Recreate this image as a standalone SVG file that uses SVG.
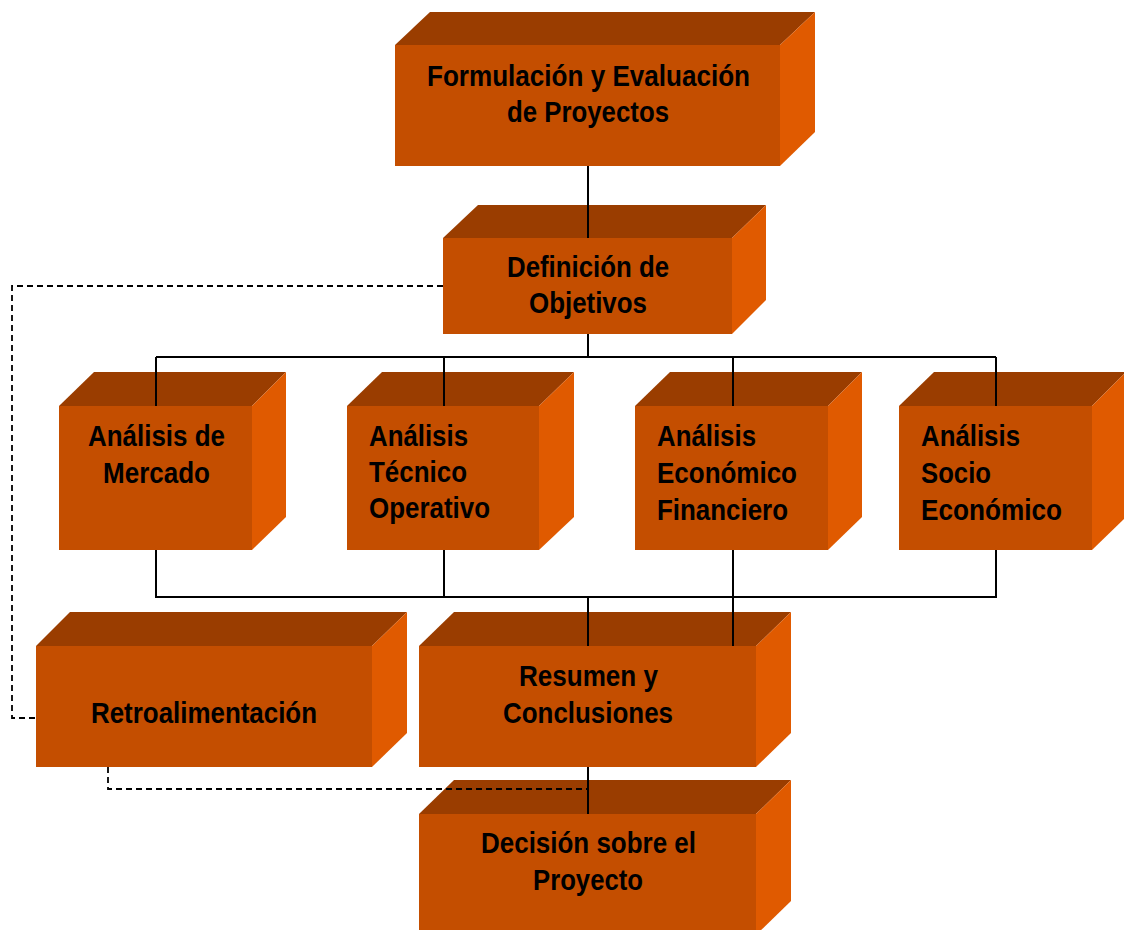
<svg xmlns="http://www.w3.org/2000/svg" width="1124" height="930" viewBox="0 0 1124 930">
<style>
.front{fill:#C44E00}
.top{fill:#9A3D00}
.side{fill:#E05A00}
.lbl{font-family:"Liberation Sans Narrow","Liberation Sans",Arial,sans-serif;font-weight:bold;font-size:30px;fill:#000}
.line{fill:none;stroke:#000;stroke-width:2}
.dash{fill:none;stroke:#000;stroke-width:1.8;stroke-dasharray:6 4}
</style>
<rect width="1124" height="930" fill="#fff"/>

<g id="n-formulacion">
<polygon class="top" points="395,45 430,12 815,12 780,45"/>
<polygon class="side" points="780,45 815,12 815,132 780,166"/>
<rect class="front" x="395" y="45" width="385" height="121"/>
<text class="lbl" x="427" y="86" textLength="323" lengthAdjust="spacingAndGlyphs">Formulación y Evaluación</text>
<text class="lbl" x="507" y="122" textLength="162" lengthAdjust="spacingAndGlyphs">de Proyectos</text>
</g>

<g id="n-definicion">
<polygon class="top" points="443,238 478,205 766,205 732,238"/>
<polygon class="side" points="732,238 766,205 766,300 732,334"/>
<rect class="front" x="443" y="238" width="289" height="96"/>
<text class="lbl" x="507" y="277" textLength="162" lengthAdjust="spacingAndGlyphs">Definición de</text>
<text class="lbl" x="529" y="313" textLength="118" lengthAdjust="spacingAndGlyphs">Objetivos</text>
</g>

<g id="n-mercado">
<polygon class="top" points="59,406 94,372 286,372 252,406"/>
<polygon class="side" points="252,406 286,372 286,517 252,550"/>
<rect class="front" x="59" y="406" width="193" height="144"/>
<text class="lbl" x="88" y="446" textLength="137" lengthAdjust="spacingAndGlyphs">Análisis de</text>
<text class="lbl" x="103" y="483" textLength="107" lengthAdjust="spacingAndGlyphs">Mercado</text>
</g>

<g id="n-tecnico">
<polygon class="top" points="347,406 382,372 574,372 539,406"/>
<polygon class="side" points="539,406 574,372 574,517 539,550"/>
<rect class="front" x="347" y="406" width="192" height="144"/>
<text class="lbl" x="369" y="446" textLength="99" lengthAdjust="spacingAndGlyphs">Análisis</text>
<text class="lbl" x="369" y="482" textLength="98" lengthAdjust="spacingAndGlyphs">Técnico</text>
<text class="lbl" x="369" y="518" textLength="121" lengthAdjust="spacingAndGlyphs">Operativo</text>
</g>

<g id="n-economico">
<polygon class="top" points="635,406 670,372 862,372 828,406"/>
<polygon class="side" points="828,406 862,372 862,517 828,550"/>
<rect class="front" x="635" y="406" width="193" height="144"/>
<text class="lbl" x="657" y="446" textLength="99" lengthAdjust="spacingAndGlyphs">Análisis</text>
<text class="lbl" x="657" y="483" textLength="140" lengthAdjust="spacingAndGlyphs">Económico</text>
<text class="lbl" x="657" y="520" textLength="131" lengthAdjust="spacingAndGlyphs">Financiero</text>
</g>

<g id="n-socio">
<polygon class="top" points="899,406 934,372 1126,372 1092,406"/>
<polygon class="side" points="1092,406 1126,372 1126,517 1092,550"/>
<rect class="front" x="899" y="406" width="193" height="144"/>
<text class="lbl" x="921" y="446" textLength="99" lengthAdjust="spacingAndGlyphs">Análisis</text>
<text class="lbl" x="921" y="483" textLength="70" lengthAdjust="spacingAndGlyphs">Socio</text>
<text class="lbl" x="921" y="520" textLength="141" lengthAdjust="spacingAndGlyphs">Económico</text>
</g>

<g id="n-retro">
<polygon class="top" points="36,646 70,612 407,612 372,646"/>
<polygon class="side" points="372,646 407,612 407,733 372,767"/>
<rect class="front" x="36" y="646" width="336" height="121"/>
<text class="lbl" x="91" y="723" textLength="226" lengthAdjust="spacingAndGlyphs">Retroalimentación</text>
</g>

<g id="n-resumen">
<polygon class="top" points="419,646 454,612 791,612 756,646"/>
<polygon class="side" points="756,646 791,612 791,733 756,767"/>
<rect class="front" x="419" y="646" width="337" height="121"/>
<text class="lbl" x="519" y="686" textLength="139" lengthAdjust="spacingAndGlyphs">Resumen y</text>
<text class="lbl" x="503" y="723" textLength="170" lengthAdjust="spacingAndGlyphs">Conclusiones</text>
</g>

<g id="n-decision">
<polygon class="top" points="419,814 454,780 791,780 756,814"/>
<polygon class="side" points="756,814 791,780 791,901 756,935"/>
<rect class="front" x="419" y="814" width="337" height="121"/>
<text class="lbl" x="481" y="853" textLength="215" lengthAdjust="spacingAndGlyphs">Decisión sobre el</text>
<text class="lbl" x="533" y="890" textLength="110" lengthAdjust="spacingAndGlyphs">Proyecto</text>
</g>

<g id="connectors">
<path class="line" d="M588,166 V238"/>
<path class="line" d="M588,334 V357 M156,357 H996 M156,357 V406 M444,357 V406 M733,357 V406 M996,357 V406"/>
<path class="line" d="M156,550 V597 H996 V550 M444,550 V597 M733,550 V646 M588,597 V646"/>
<path class="line" d="M588,767 V814"/>
<path class="dash" d="M443,286 H12 V718 H36"/>
<path class="dash" d="M108,767 V789 H588"/>
</g>
</svg>
